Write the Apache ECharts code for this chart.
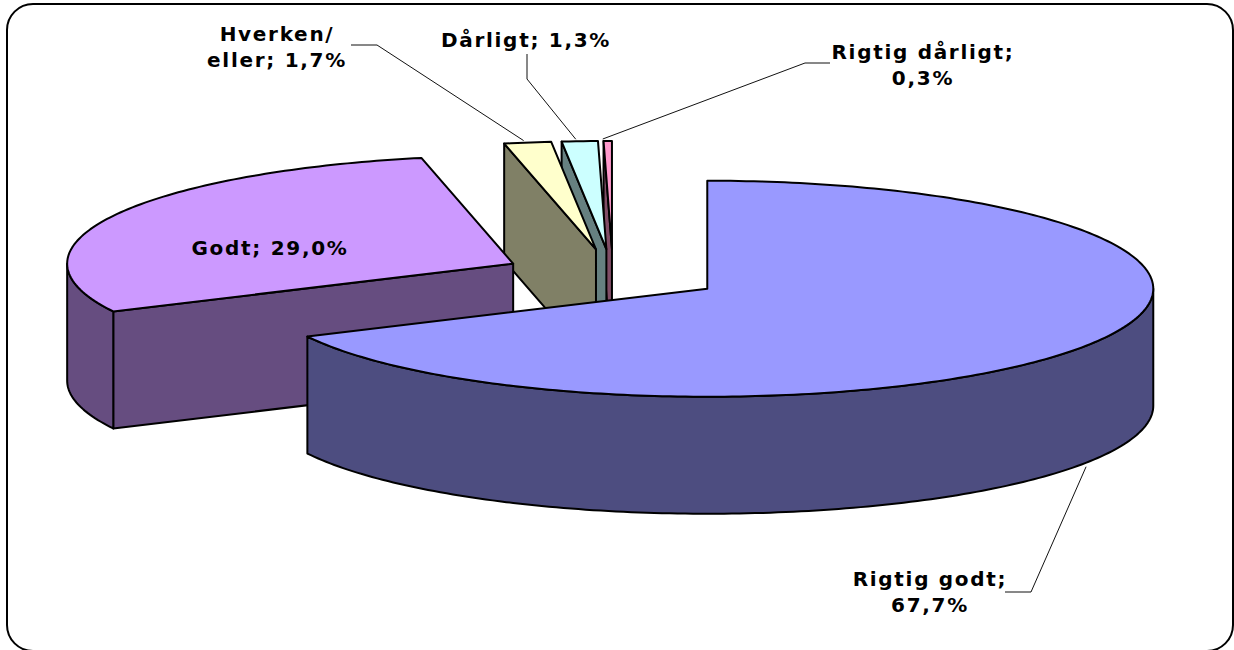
<!DOCTYPE html>
<html>
<head>
<meta charset="utf-8">
<style>
html,body{margin:0;padding:0;background:#fff;}
#main{width:1234px;height:650px;letter-spacing:1.7px;}
</style>
<script src="https://cdn.jsdelivr.net/npm/echarts@6/dist/echarts.min.js"></script>
</head>
<body>
<div id="main"></div>
<script>
// --- data ---
var categories = ['Rigtig godt', 'Godt', 'Hverken/\neller', 'Dårligt', 'Rigtig dårligt'];
var values = [67.7, 29.0, 1.7, 1.3, 0.3];
var labelBreaks = ['\n', ' ', ' ', ' ', '\n'];
var topColors = ['#9999FF', '#CC99FF', '#FFFFCC', '#CCFFFF', '#FF99CC'];
var sideColors = ['#4D4D80', '#664D80', '#808066', '#668080', '#804D66'];

// --- pie geometry (style, not data) ---
var pie = {cx: 613, cy: 275, rx: 446, ry: 108, depth: 117, explodeX: 111, explodeY: 26};
var drawOrder = [4, 3, 2, 1, 0];

// --- label layout ---
var labelPos = [[930, 592], [270, 248], [277, 47], [526, 40], [923, 65]];
var leaderElbows = [
  [[1005, 592], [1031, 592]],
  null,
  [[351, 45], [377, 45]],
  [[527, 54], [527, 79]],
  [[830, 63], [805, 63]]
];
var leaderNudge = [[0, 4], null, [-4, -2], [-4, -2], [-5, -2]];

var total = values.reduce(function (a, b) { return a + b; }, 0);
var slices = [];
(function () {
  var acc = 0;
  values.forEach(function (v) {
    var start = acc / total * Math.PI * 2;
    acc += v;
    var end = acc / total * Math.PI * 2;
    var mid = (start + end) / 2;
    slices.push({
      start: start, end: end, mid: mid,
      cx: pie.cx + pie.explodeX * Math.sin(mid),
      cy: pie.cy - pie.explodeY * Math.cos(mid)
    });
  });
})();

function rimPoint(s, a, drop) {
  return [s.cx + pie.rx * Math.sin(a), s.cy - pie.ry * Math.cos(a) + (drop || 0)];
}
function arc(s, a0, a1, drop) {
  var pts = [];
  var n = Math.max(2, Math.ceil(Math.abs(a1 - a0) / (Math.PI / 180)));
  for (var i = 0; i <= n; i++) pts.push(rimPoint(s, a0 + (a1 - a0) * i / n, drop));
  return pts;
}
function poly(points, fill, width) {
  return {
    type: 'polygon',
    shape: {points: points},
    style: {fill: fill, stroke: '#000', lineWidth: width || 2, lineJoin: 'round'}
  };
}
function renderSlice(params, api) {
  var i = api.value(0);
  var s = slices[i];
  var d = pie.depth;
  var apex = [s.cx, s.cy];
  var apexD = [s.cx, s.cy + d];
  var side = sideColors[i];
  var kids = [];
  // A cut face shows only when the extrusion falls outside the slice's top.
  if (Math.sin(s.start) < -1e-6) {
    kids.push(poly([apex, rimPoint(s, s.start), rimPoint(s, s.start, d), apexD], side));
  }
  if (Math.sin(s.end) > 1e-6) {
    kids.push(poly([apex, rimPoint(s, s.end), rimPoint(s, s.end, d), apexD], side));
  }
  var wa = Math.max(s.start, Math.PI / 2);
  var wb = Math.min(s.end, Math.PI * 1.5);
  if (wb > wa) {
    kids.push(poly(arc(s, wa, wb, 0).concat(arc(s, wb, wa, d)), side));
  }
  kids.push(poly([apex].concat(arc(s, s.start, s.end, 0)), topColors[i]));
  return {type: 'group', children: kids};
}
function labelText(i) {
  return categories[i] + ';' + labelBreaks[i] + values[i].toFixed(1).replace('.', ',') + '%';
}
function renderLabel(params, api) {
  var i = api.value(0);
  var s = slices[i];
  var kids = [];
  if (leaderElbows[i]) {
    var below = i === 0;
    var end = rimPoint(s, s.mid, below ? pie.depth : 0);
    end = [end[0] + leaderNudge[i][0], end[1] + leaderNudge[i][1]];
    kids.push({
      type: 'polyline',
      shape: {points: leaderElbows[i].concat([end])},
      style: {fill: 'none', stroke: '#111', lineWidth: 1}
    });
  }
  kids.push({
    type: 'text',
    style: {
      text: labelText(i),
      x: labelPos[i][0],
      y: labelPos[i][1],
      align: 'center',
      verticalAlign: 'middle',
      lineHeight: 26,
      fontFamily: '"DejaVu Sans"',
      fontWeight: 'bold',
      fontSize: 20,
      fill: '#000'
    }
  });
  return {type: 'group', children: kids};
}

var chart = echarts.init(document.getElementById('main'), null, {renderer: 'svg', width: 1234, height: 650});
chart.setOption({
  animation: false,
  backgroundColor: '#fff',
  graphic: [{
    type: 'rect',
    shape: {x: 7, y: 4, width: 1226, height: 647, r: 26},
    style: {fill: 'none', stroke: '#000', lineWidth: 2},
    silent: true
  }],
  series: [{
    type: 'custom',
    coordinateSystem: 'none',
    renderItem: renderSlice,
    silent: true,
    data: drawOrder.map(function (i) { return [i, values[i]]; })
  }, {
    type: 'custom',
    coordinateSystem: 'none',
    renderItem: renderLabel,
    silent: true,
    z: 5,
    data: values.map(function (v, i) { return [i, v]; })
  }]
});
</script>
</body>
</html>
